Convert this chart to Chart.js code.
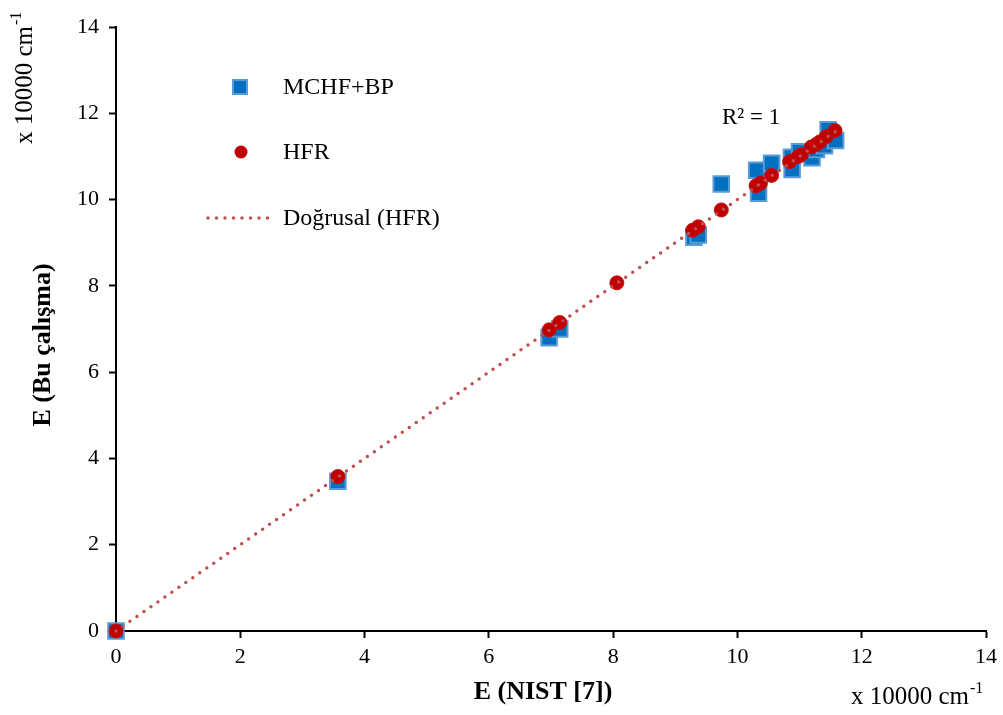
<!DOCTYPE html>
<html>
<head>
<meta charset="utf-8">
<script src="https://cdn.jsdelivr.net/npm/chart.js@4/dist/chart.umd.min.js"></script>
<style>
  html, body { margin: 0; padding: 0; background: #fff; }
  #wrap { width: 1003px; height: 715px; }
</style>
</head>
<body>
<div id="wrap"><canvas id="chart" width="1003" height="715"></canvas></div>
<script>
// E values in units of 10000 cm-1
const hfrX = [0, 3.57, 6.97, 7.14, 8.06, 9.28, 9.37, 9.74, 10.30, 10.37, 10.55, 10.84, 10.98, 11.03, 11.19, 11.27, 11.33, 11.43, 11.57];
const hfrY = [0, 3.58, 6.98, 7.15, 8.07, 9.29, 9.37, 9.76, 10.32, 10.38, 10.56, 10.88, 11.00, 11.04, 11.22, 11.28, 11.34, 11.46, 11.60];

const mchfX = [0, 3.57, 6.97, 7.14, 9.30, 9.37, 9.74, 10.31, 10.34, 10.55, 10.87, 10.88, 11.00, 11.20, 11.27, 11.40, 11.46, 11.58];
const mchfY = [0, 3.47, 6.80, 7.00, 9.13, 9.18, 10.36, 10.68, 10.15, 10.84, 10.98, 10.70, 11.11, 10.97, 11.16, 11.25, 11.62, 11.37];

const trendX = [0, 11.6];
const axisTicks = [0, 2, 4, 6, 8, 10, 12, 14];

const serif = '"Liberation Serif", "Times New Roman", serif';

const toPoints = (xs, ys) => xs.map((x, i) => ({ x: x, y: ys[i] }));

const textPlugin = {
    id: 'texts',
    afterDraw(chart) {
        const c = chart.ctx;
        c.save();
        c.fillStyle = '#000';

        // axis titles
        c.font = 'bold 26px ' + serif;
        c.textAlign = 'center';
        c.textBaseline = 'alphabetic';
        c.fillText('E (NIST [7])', 543, 699);
        c.save();
        c.translate(50, 345);
        c.rotate(-Math.PI / 2);
        c.fillText('E (Bu çalışma)', 0, 0);
        c.restore();

        // unit labels
        c.textAlign = 'left';
        c.font = '25px ' + serif;
        c.fillText('x 10000 cm', 851, 704);
        let w = c.measureText('x 10000 cm').width;
        c.font = '16px ' + serif;
        c.fillText('-1', 851 + w + 1, 693);

        c.save();
        c.translate(32, 144);
        c.rotate(-Math.PI / 2);
        c.font = '25px ' + serif;
        c.fillText('x 10000 cm', 0, 0);
        w = c.measureText('x 10000 cm').width;
        c.font = '16px ' + serif;
        c.fillText('-1', w + 1, -11);
        c.restore();

        // R2 label
        c.font = '23px ' + serif;
        c.textBaseline = 'middle';
        c.fillText('R² = 1', 722, 118);

        // legend
        c.font = '24px ' + serif;
        c.fillStyle = '#0070c0';
        c.strokeStyle = '#5b9bd5';
        c.lineWidth = 2;
        c.fillRect(233, 80, 14, 14);
        c.strokeRect(233, 80, 14, 14);
        c.fillStyle = '#c00000';
        c.beginPath();
        c.arc(241, 152, 6.5, 0, Math.PI * 2);
        c.fill();
        c.strokeStyle = '#c0504d';
        c.lineWidth = 3.5;
        c.lineCap = 'round';
        c.setLineDash([0, 8.5]);
        c.beginPath();
        c.moveTo(208, 218);
        c.lineTo(270, 218);
        c.stroke();
        c.setLineDash([]);
        c.fillStyle = '#000';
        c.fillText('MCHF+BP', 283, 88);
        c.fillText('HFR', 283, 153);
        c.fillText('Doğrusal (HFR)', 283, 219);
        c.restore();
    }
};

const ctx = document.getElementById('chart');
const axisOpts = {
    type: 'linear',
    min: 0,
    max: 14,
    afterBuildTicks: (s) => { s.ticks = axisTicks.map(v => ({ value: v })); },
    border: { display: true, color: '#000', width: 2 },
    grid: { display: true, drawOnChartArea: false, drawTicks: true, tickLength: 7, tickWidth: 2, tickColor: '#000' },
    ticks: { color: '#000', font: { family: serif, size: 22 }, maxRotation: 0 }
};

new Chart(ctx, {
    type: 'scatter',
    data: {
        datasets: [{
            type: 'line',
            label: 'Doğrusal (HFR)',
            data: toPoints(trendX, trendX),
            borderColor: '#c0504d',
            borderWidth: 3.5,
            borderDash: [0, 8.5],
            borderCapStyle: 'round',
            pointRadius: 0,
            fill: false,
            clip: false
        }, {
            label: 'HFR',
            data: toPoints(hfrX, hfrY),
            pointStyle: 'circle',
            pointRadius: 7,
            backgroundColor: '#c00000',
            borderColor: '#c41010',
            borderWidth: 1,
            clip: false
        }, {
            label: 'MCHF+BP',
            data: toPoints(mchfX, mchfY),
            pointStyle: 'rect',
            pointRadius: 11,
            backgroundColor: '#0070c0',
            borderColor: '#5b9bd5',
            borderWidth: 2,
            clip: false
        }]
    },
    options: {
        responsive: false,
        animation: false,
        layout: { padding: { left: 0, top: 27, right: 15, bottom: 0 } },
        plugins: { legend: { display: false }, tooltip: { enabled: false } },
        scales: {
            x: Object.assign({}, axisOpts, {
                position: 'bottom',
                afterFit: (s) => { s.height = 84; },
                ticks: Object.assign({}, axisOpts.ticks, { padding: 6 })
            }),
            y: Object.assign({}, axisOpts, {
                position: 'left',
                afterFit: (s) => { s.width = 116; },
                ticks: Object.assign({}, axisOpts.ticks, { padding: 10 })
            })
        }
    },
    plugins: [textPlugin]
});
</script>
</body>
</html>
